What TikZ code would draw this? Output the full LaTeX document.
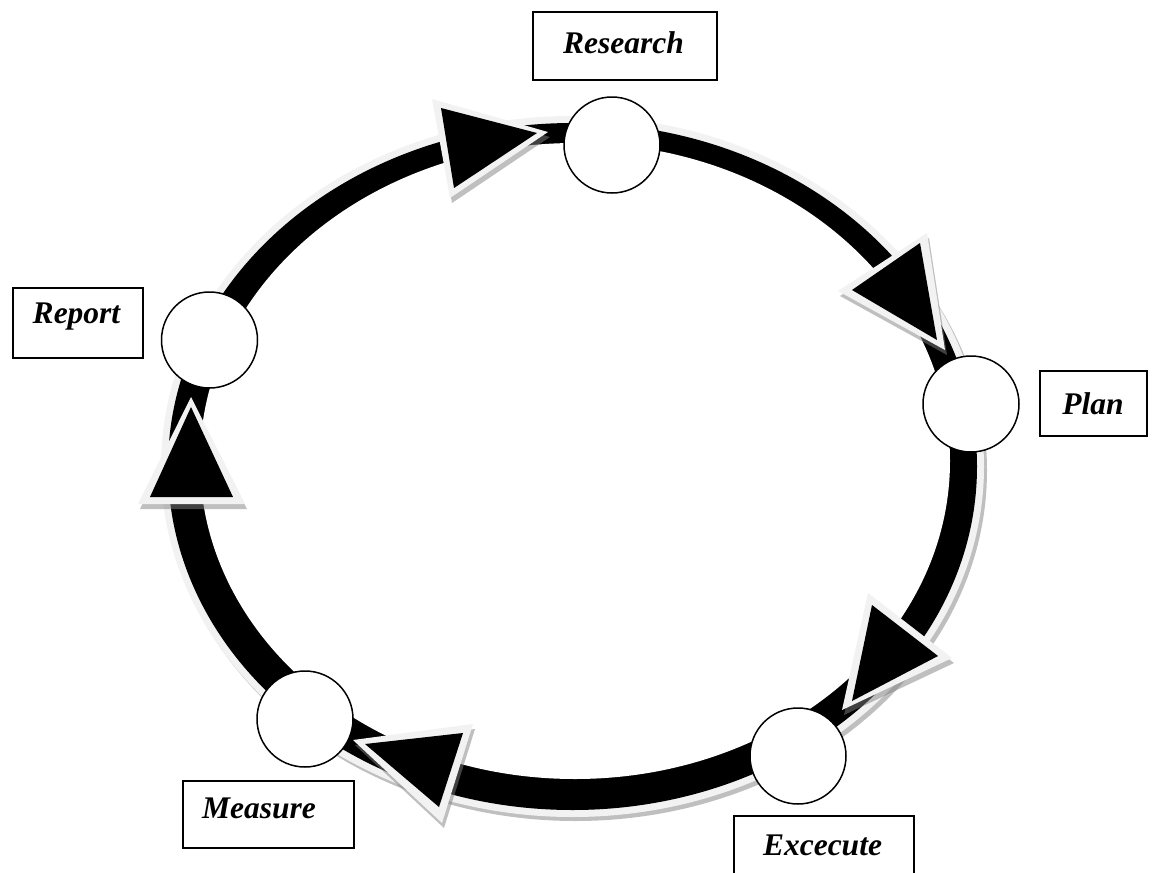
\documentclass[tikz,border=0pt]{standalone}
\usepackage{fontspec}
\setmainfont{Liberation Serif}
\begin{document}
\begin{tikzpicture}[x=1pt,y=-1pt,
  circ/.style={circle, draw=black, line width=1.5pt, fill=white, minimum size=96pt, inner sep=0pt},
  box/.style={rectangle, draw=black, line width=1.8pt, fill=white, inner sep=0pt},
  lbl/.style={font=\fontsize{31.5}{36}\selectfont\bfseries\itshape, inner sep=0pt, anchor=base},
  glow/.style={fill=black!5},
  ringshade/.style={fill=black!25},
  tri/.style={fill=black},
  triglow/.style={fill=black!5},
  trishadow/.style={fill=gray, opacity=0.5}]
\useasboundingbox (0,0) rectangle (1160,873);
\clip (0,0) rectangle (1160,873);
% ring
\fill[ringshade] (575.5,470.5) ellipse [x radius=411.5pt, y radius=350.5pt];
\fill[glow] (572.5,466.5) ellipse [x radius=411.5pt, y radius=350.5pt];
\fill[black] (572.5,466.5) ellipse [x radius=404.5pt, y radius=343.5pt];
\fill[white] (575,461) ellipse [x radius=375pt, y radius=318pt];
% triangles: shadow, light border, black
\begin{scope}[shift={(2,5)}]
  \fill[trishadow] (432,99) -- (450,198) -- (548,132) -- cycle;
  \fill[trishadow] (927,233) -- (838,291) -- (945,350) -- cycle;
  \fill[trishadow] (191,397) -- (138,504) -- (245,504) -- cycle;
  \fill[trishadow] (868,593) -- (952,658) -- (842,710) -- cycle;
  \fill[trishadow] (353,740) -- (473,724) -- (442,823) -- cycle;
\end{scope}
\fill[triglow] (432,99) -- (450,198) -- (548,132) -- cycle;
\fill[tri] (441,108) -- (454,188) -- (537,133) -- cycle;
\fill[triglow] (927,233) -- (838,291) -- (945,350) -- cycle;
\fill[tri] (920,243) -- (852,290) -- (937,340) -- cycle;
\fill[triglow] (191,397) -- (138,504) -- (245,504) -- cycle;
\fill[tri] (191,407) -- (150,497) -- (233,497) -- cycle;
\fill[triglow] (868,593) -- (952,658) -- (842,710) -- cycle;
\fill[tri] (872,605) -- (938,656) -- (852,701) -- cycle;
\fill[triglow] (353,740) -- (473,724) -- (442,823) -- cycle;
\fill[tri] (365,744) -- (463,733) -- (439,807) -- cycle;
% circles
\node[circ] (research-c) at (612,145) {};
\node[circ] (plan-c) at (971,404) {};
\node[circ] (excecute-c) at (798,756) {};
\node[circ] (measure-c) at (305,719) {};
\node[circ] (report-c) at (209.5,340) {};
% label boxes
\node[box, minimum width=184pt, minimum height=68pt] (research-b) at (625,46) {};
\node[box, minimum width=107pt, minimum height=65pt] (plan-b) at (1093.5,403.5) {};
\node[box, minimum width=130pt, minimum height=70pt] (report-b) at (78,323) {};
\node[box, minimum width=171pt, minimum height=67pt] (measure-b) at (268.5,814.5) {};
\node[box, minimum width=180pt, minimum height=68pt] (excecute-b) at (824,850) {};
% texts
\node[lbl] (research-t) at (623.5,53.3) {Research};
\node[lbl] (plan-t) at (1093,414) {Plan};
\node[lbl] (report-t) at (76.5,323.3) {Report};
\node[lbl, anchor=base west] (measure-t) at (202,818) {Measure};
\node[lbl] (excecute-t) at (822.5,855) {Excecute};
\end{tikzpicture}
\end{document}
